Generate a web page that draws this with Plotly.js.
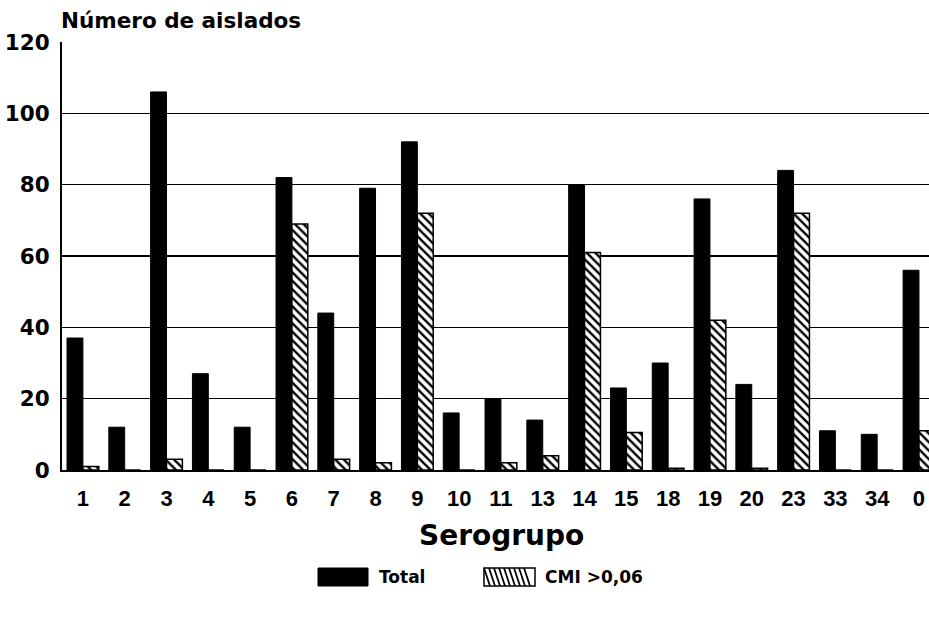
<!DOCTYPE html>
<html>
<head>
<meta charset="utf-8">
<script src="https://cdn.plot.ly/plotly-3.0.1.min.js"></script>
<style>html,body{margin:0;padding:0;background:#fff;}</style>
</head>
<body>
<div id="chart" style="width:929px;height:621px;"></div>
<script>
const categories = ['1','2','3','4','5','6','7','8','9','10','11','13','14','15','18','19','20','23','33','34','0'];
const totalValues = [37,12,106,27,12,82,44,79,92,16,20,14,80,23,30,76,24,84,11,10,56];
const cmiValues = [1,0,3,0,0,69,3,2,72,0,2,4,61,10.5,0.5,42,0.5,72,0,0,11];
const seriesNames = ['Total', 'CMI >0,06'];
const yTicks = [0,20,40,60,80,100,120];

const W = 929, H = 621;
const M = {l:62, r:0, t:42, b:151};
const pw = W - M.l - M.r, ph = H - M.t - M.b;
const px = x => (x - M.l) / pw;
const py = y => (H - M.b - y) / ph;

const boldFont = (size, family) => ({family: family || 'DejaVu Sans, Liberation Sans, sans-serif', size: size, color: '#000', weight: 'bold'});

const traces = [
  {type:'bar', x:categories, y:totalValues, name:seriesNames[0],
   marker:{color:'#000', line:{color:'#000', width:1}}, showlegend:false},
  {type:'bar', x:categories, y:cmiValues, name:seriesNames[1],
   marker:{color:'#fff', line:{color:'#000', width:1.5},
     pattern:{shape:'\\', fgcolor:'#000', bgcolor:'#fff', size:6, solidity:0.4}}, showlegend:false}
];

// legend drawn as decoration
const shapes = [];
shapes.push({type:'rect', xref:'paper', yref:'paper', x0:px(318), x1:px(368), y0:py(586), y1:py(568),
  fillcolor:'#000', line:{color:'#000', width:1}});
shapes.push({type:'rect', xref:'paper', yref:'paper', x0:px(484), x1:px(535), y0:py(586), y1:py(568),
  fillcolor:'#fff', line:{color:'#000', width:1.5}});
let p = '';
for (let x = 484; x <= 528; x += 5) {
  p += 'M' + px(x) + ',' + py(568) + 'L' + px(x + 6) + ',' + py(586) + ' ';
}
shapes.push({type:'path', xref:'paper', yref:'paper', path:p, line:{color:'#000', width:1.8}});

const annotations = [
  {text:'Número de aislados', xref:'paper', yref:'paper', x:px(59), y:py(20), xanchor:'left', yanchor:'middle',
   showarrow:false, font:boldFont(21.5)},
  {text:'Serogrupo', xref:'paper', yref:'paper', x:px(501), y:py(535), xanchor:'center', yanchor:'middle',
   showarrow:false, font:boldFont(28)},
  {text:seriesNames[0], xref:'paper', yref:'paper', x:px(377), y:py(577), xanchor:'left', yanchor:'middle',
   showarrow:false, font:boldFont(17)},
  {text:seriesNames[1], xref:'paper', yref:'paper', x:px(543), y:py(577), xanchor:'left', yanchor:'middle',
   showarrow:false, font:boldFont(17)}
];

const layout = {
  width:W, height:H, margin:M,
  paper_bgcolor:'#fff', plot_bgcolor:'#fff',
  barmode:'group', bargap:0.24, bargroupgap:0,
  showlegend:false,
  xaxis:{type:'category', range:[-0.5, 20.24], showgrid:false, zeroline:false,
    showline:true, linecolor:'#000', linewidth:2, ticks:'',
    tickfont:boldFont(22, 'Liberation Sans, Arial, sans-serif'),
    ticklabelstandoff:8, fixedrange:true},
  yaxis:{range:[0,120], tickvals:yTicks, ticktext:yTicks.map(String),
    showgrid:true, gridcolor:'#000', gridwidth:1.6, zeroline:false,
    showline:true, linecolor:'#000', linewidth:2, ticks:'',
    tickfont:boldFont(21.5), ticklabelstandoff:6, fixedrange:true},
  shapes:shapes, annotations:annotations
};

Plotly.newPlot('chart', traces, layout, {displayModeBar:false, staticPlot:true});
</script>
</body>
</html>
